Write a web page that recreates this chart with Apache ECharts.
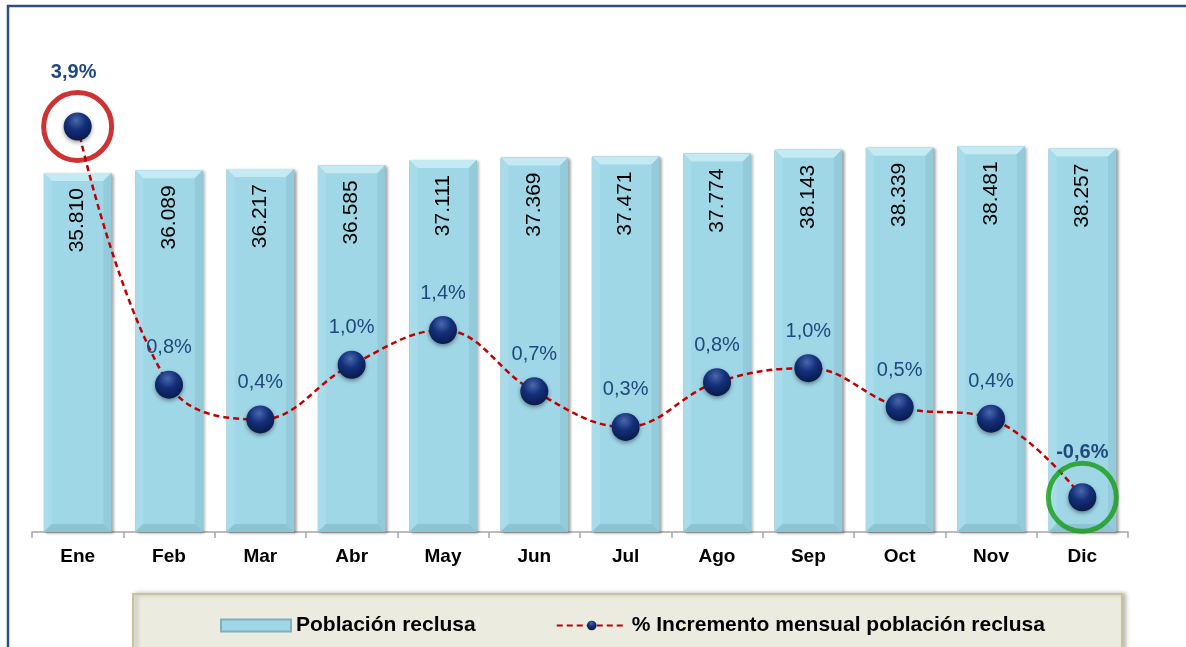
<!DOCTYPE html>
<html>
<head>
<meta charset="utf-8">
<script src="https://cdn.jsdelivr.net/npm/echarts@6/dist/echarts.min.js"></script>
<style>
  html, body { margin: 0; padding: 0; background: #fff; }
  #chart { width: 1186px; height: 647px; }
</style>
</head>
<body>
<div id="chart"></div>
<script>
// datos
const meses = ['Ene', 'Feb', 'Mar', 'Abr', 'May', 'Jun', 'Jul', 'Ago', 'Sep', 'Oct', 'Nov', 'Dic'];
const poblacion = [35810, 36089, 36217, 36585, 37111, 37369, 37471, 37774, 38143, 38339, 38481, 38257];
const incremento = [3.9, 0.78, 0.36, 1.02, 1.44, 0.70, 0.27, 0.81, 0.98, 0.51, 0.37, -0.58];
const nombreBarras = 'Población reclusa';
const nombreLinea = '% Incremento mensual población reclusa';

const fuente = '"Liberation Sans", Arial, sans-serif';

function miles(v) {
    return String(v).replace(/\B(?=(\d{3})+(?!\d))/g, '.');
}
function pct(v) {
    return v.toFixed(1).replace('.', ',') + '%';
}

/* puntos con etiqueta en negrita */
let lineaData = incremento.map(function (v, i) {
    if (i === 0) {
        return {value: v, label: {fontWeight: 'bold', distance: 30, offset: [-4, 0]}};
    }
    if (i === incremento.length - 1) {
        return {value: v, label: {fontWeight: 'bold', distance: 21}};
    }
    return v;
});

let chart = echarts.init(document.getElementById('chart'));
let option = {
    backgroundColor: '#ffffff',
    animation: false,
    textStyle: {fontFamily: fuente},
    grid: {left: 32, right: 58, top: 81, bottom: 115},
    graphic: [
        {
            type: 'polyline',
            z: 1,
            shape: {points: [[8, 647], [8, 6], [1186, 6]]},
            style: {stroke: '#2c4f80', lineWidth: 2.5, fill: null}
        },
        {
            type: 'rect',
            z: 1,
            shape: {x: 133, y: 594, width: 989, height: 70},
            style: {
                fill: '#ecebe0', stroke: '#c9c19b', lineWidth: 2,
                shadowColor: 'rgba(0,0,0,0.25)', shadowBlur: 4, shadowOffsetX: 3
            }
        }
    ],
    legend: {
        data: [{name: nombreBarras, icon: 'rect'}, nombreLinea],
        left: 215,
        top: 610,
        itemWidth: 70,
        itemHeight: 12,
        itemGap: 80,
        textStyle: {fontSize: 21, fontWeight: 'bold', color: '#000', fontFamily: fuente}
    },
    xAxis: {
        type: 'category',
        data: meses,
        axisLine: {lineStyle: {color: '#a6a6a6', width: 1.5}},
        axisTick: {show: true, length: 6, lineStyle: {color: '#a6a6a6', width: 1.5}},
        axisLabel: {fontSize: 19, fontWeight: 'bold', color: '#000', margin: 15}
    },
    yAxis: [
        {type: 'value', min: 0, max: 45000, show: false, splitLine: {show: false}},
        {type: 'value', min: -1, max: 4.45, show: false, splitLine: {show: false}}
    ],
    series: [
        {
            name: nombreBarras,
            type: 'bar',
            z: 2,
            barWidth: '74%',
            data: poblacion,
            itemStyle: {
                color: '#9fd7e6',
                borderColor: '#7fb0bf',
                borderWidth: 1,
                shadowColor: 'rgba(0,0,0,0.35)',
                shadowBlur: 3,
                shadowOffsetX: 2,
                shadowOffsetY: 1
            },
            label: {
                show: true,
                position: 'insideTop',
                rotate: 90,
                align: 'right',
                verticalAlign: 'middle',
                distance: 15,
                fontSize: 21,
                color: '#000',
                formatter: function (p) { return miles(p.value); }
            }
        },
        {
            /* biselado de las barras */
            name: 'bisel',
            type: 'custom',
            z: 3,
            silent: true,
            data: poblacion.map(function (v, i) { return [i, v]; }),
            encode: {x: 0, y: 1},
            renderItem: function (params, api) {
                let i = api.value(0);
                let top = api.coord([i, api.value(1)]);
                let base = api.coord([i, 0]);
                let w = api.size([1, 0])[0] * 0.74;
                let x0 = top[0] - w / 2, x1 = top[0] + w / 2, y0 = top[1], y1 = base[1], b = 8;
                return {
                    type: 'group',
                    children: [
                        {type: 'polygon', shape: {points: [[x0, y0], [x1, y0], [x1 - b, y0 + b], [x0 + b, y0 + b]]}, style: {fill: '#c4eaf4'}},
                        {type: 'polygon', shape: {points: [[x0, y0], [x0 + b, y0 + b], [x0 + b, y1 - b], [x0, y1]]}, style: {fill: '#a8dcea'}},
                        {type: 'polygon', shape: {points: [[x1, y0], [x1, y1], [x1 - b, y1 - b], [x1 - b, y0 + b]]}, style: {fill: '#93cbda'}},
                        {type: 'polygon', shape: {points: [[x0, y1], [x0 + b, y1 - b], [x1 - b, y1 - b], [x1, y1]]}, style: {fill: '#8cc4d3'}}
                    ]
                };
            }
        },
        {
            name: nombreLinea,
            type: 'line',
            yAxisIndex: 1,
            z: 5,
            smooth: 0.4,
            data: lineaData,
            symbol: 'circle',
            symbolSize: 28,
            lineStyle: {color: '#c00000', width: 2.5, type: [6, 4]},
            itemStyle: {
                color: {
                    type: 'radial', x: 0.45, y: 0.28, r: 0.75,
                    colorStops: [
                        {offset: 0, color: '#4a68ac'},
                        {offset: 0.45, color: '#14307a'},
                        {offset: 1, color: '#081848'}
                    ]
                },
                shadowColor: 'rgba(0,0,0,0.4)',
                shadowBlur: 4,
                shadowOffsetY: 2
            },
            label: {
                show: true,
                position: 'top',
                distance: 13,
                fontSize: 20,
                color: '#1f497d',
                formatter: function (p) { return pct(p.value); }
            }
        },
        {
            /* circulos de resalte: primer y ultimo mes */
            name: 'resalte',
            type: 'scatter',
            yAxisIndex: 1,
            z: 6,
            silent: true,
            symbolSize: 68,
            data: [
                {value: [0, incremento[0]], itemStyle: {borderColor: '#c00000'}},
                {value: [11, incremento[11]], itemStyle: {borderColor: '#169b16'}}
            ],
            itemStyle: {color: 'rgba(0,0,0,0)', borderWidth: 5}
        }
    ]
};
chart.setOption(option);
</script>
</body>
</html>
